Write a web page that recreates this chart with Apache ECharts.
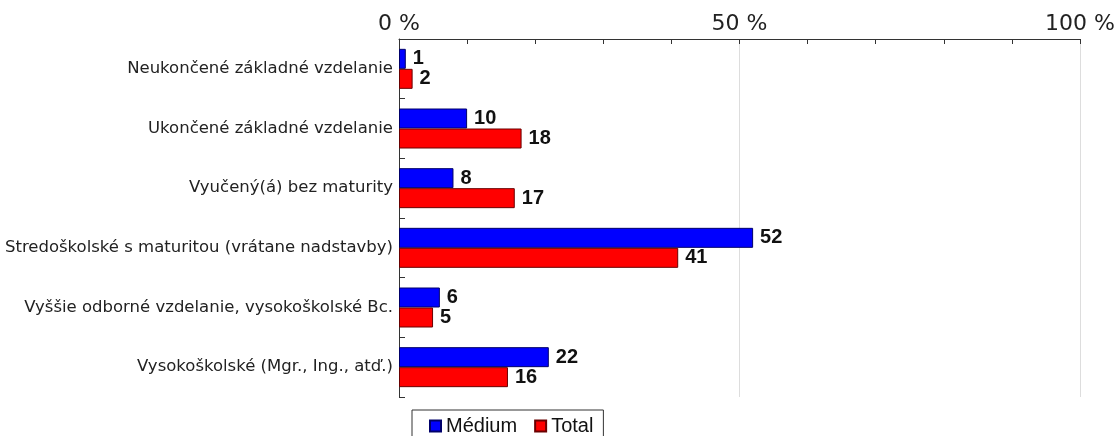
<!DOCTYPE html>
<html><head><meta charset="utf-8">
<script src="https://cdn.jsdelivr.net/npm/echarts@6/dist/echarts.min.js"></script>
<style>html,body{margin:0;padding:0;background:#fff}#c{width:1118px;height:436px}</style>
</head><body><div id="c"></div>
<script>
const categories = [
  "Neukončené základné vzdelanie",
  "Ukončené základné vzdelanie",
  "Vyučený(á) bez maturity",
  "Stredoškolské s maturitou (vrátane nadstavby)",
  "Vyššie odborné vzdelanie, vysokoškolské Bc.",
  "Vysokoškolské (Mgr., Ing., atď.)"
];
const medium = [1, 10, 8, 52, 6, 22];
const total = [2, 18, 17, 41, 5, 16];
const xTicks = [0, 50, 100];

const chart = echarts.init(document.getElementById('c'));
const labelStyle = {show: true, position: 'right', distance: 7, color: '#111', fontFamily: 'Liberation Sans, Arial', fontWeight: 'bold', fontSize: 20};
chart.setOption({
  animation: false,
  grid: {left: 399, right: 38, top: 39, bottom: 39},
  legend: {
    data: ['Médium', 'Total'], left: 412, top: 410,
    borderColor: '#333', borderWidth: 1, padding: [6, 10, 6, 17],
    itemWidth: 11, itemHeight: 11, itemGap: 17, icon: 'rect',
    textStyle: {fontFamily: 'Liberation Sans, Arial', fontSize: 20, color: '#111'}
  },
  xAxis: {
    type: 'value', position: 'top', min: 0, max: 100, interval: 50,
    axisLine: {show: true, lineStyle: {color: '#333'}},
    axisTick: {show: true, inside: true, length: 5, lineStyle: {color: '#333'}},
    minorTick: {show: true, splitNumber: 5, length: 5, lineStyle: {color: '#333'}},
    splitLine: {show: true, lineStyle: {color: '#ddd'}},
    axisLabel: {
      fontFamily: 'DejaVu Sans', fontSize: 22, color: '#222', margin: 4,
      formatter: v => xTicks.includes(v) ? v + ' %' : ''
    }
  },
  yAxis: {
    type: 'category', data: categories, inverse: true,
    axisLine: {show: true, lineStyle: {color: '#333'}},
    axisTick: {show: true, inside: true, length: 6, lineStyle: {color: '#333'}},
    axisLabel: {fontFamily: 'DejaVu Sans', fontSize: 16.5, color: '#222', margin: 6}
  },
  series: [
    {name: 'Médium', type: 'bar', data: medium, barWidth: 20, barGap: '0%',
     itemStyle: {color: '#0000ff', borderColor: '#00006a', borderWidth: 1}, label: labelStyle},
    {name: 'Total', type: 'bar', data: total, barWidth: 20, barGap: '0%',
     itemStyle: {color: '#ff0000', borderColor: '#6a0000', borderWidth: 1}, label: labelStyle}
  ]
});
</script></body></html>
